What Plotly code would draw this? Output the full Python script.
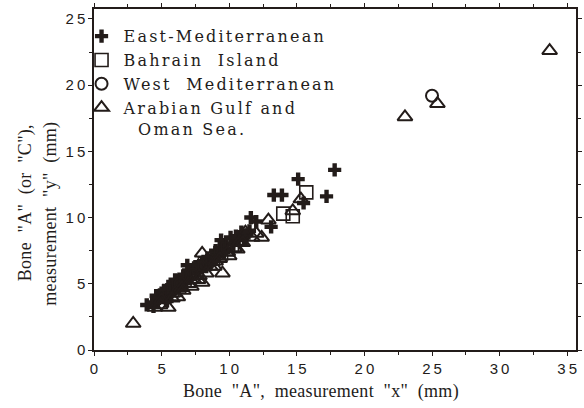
import plotly.graph_objects as go

# Bone "A" measurements (mm): x on the horizontal axis, y on the vertical axis
east_med_x = [3.9, 4.3, 4.6, 5.0, 5.3, 5.6, 5.9, 6.1, 6.3, 6.6, 6.8, 6.9, 7.0, 7.2, 7.5,
              7.8, 8.0, 8.1, 8.4, 8.7, 9.0, 9.3, 9.4, 9.8, 10.1, 10.5, 10.9, 11.3, 11.6,
              12.0, 13.1, 13.3, 13.9, 15.1, 15.5, 17.2, 17.8, 6.0, 5.5, 7.4, 8.9, 9.6,
              4.8, 5.2, 5.7, 6.2, 6.5, 7.1, 7.6, 8.3, 8.6, 9.2, 9.7, 10.3, 10.7, 11.1,
              11.5, 4.4, 5.4]
east_med_y = [3.4, 3.6, 4.1, 4.3, 4.2, 4.6, 4.9, 5.2, 5.0, 5.6, 5.5, 6.4, 6.0, 5.8, 6.3,
              6.1, 6.5, 6.7, 6.9, 7.1, 7.5, 7.7, 8.3, 8.0, 8.5, 8.6, 8.9, 8.7, 10.0,
              9.7, 9.3, 11.7, 11.7, 12.9, 11.1, 11.6, 13.6, 5.3, 4.8, 6.2, 7.0, 7.4,
              3.9, 4.5, 4.3, 4.7, 5.3, 5.4, 5.9, 6.3, 6.6, 7.1, 7.6, 8.0, 8.3, 8.5,
              9.0, 3.3, 3.7]

bahrain_x = [5.2, 5.8, 6.3, 6.7, 7.1, 7.6, 8.2, 8.8, 9.4, 9.9, 10.2, 14.0, 14.7, 15.7]
bahrain_y = [4.0, 4.5, 4.8, 5.3, 5.5, 6.0, 6.5, 6.9, 7.3, 7.6, 7.9, 10.3, 10.1, 11.9]

west_med_x = [6.4, 7.3, 8.5, 25.0]
west_med_y = [5.0, 5.7, 6.6, 19.2]

gulf_x = [2.9, 4.5, 5.5, 5.0, 6.0, 6.5, 7.0, 7.4, 8.0, 8.0, 8.6, 9.0, 9.5, 9.9, 10.4,
          11.2, 11.7, 12.4, 12.9, 15.3, 14.7, 23.0, 25.4, 33.7, 6.2, 7.8, 10.8,
          4.9, 5.8, 6.6, 7.2, 7.7, 8.3, 8.9, 9.3, 10.0, 10.6, 11.0, 12.0]
gulf_y = [2.0, 3.2, 3.2, 3.8, 4.3, 4.7, 5.0, 5.3, 7.3, 5.1, 6.3, 6.7, 5.8, 7.4, 7.7,
          8.9, 8.5, 8.5, 9.8, 11.4, 10.5, 17.6, 18.6, 22.6, 4.0, 5.6, 8.2,
          3.4, 3.9, 4.5, 4.8, 5.3, 5.8, 6.3, 6.9, 7.1, 7.6, 8.1, 8.8]

x_ticks = [0, 5, 10, 15, 20, 25, 30, 35]
x_tick_labels = ["0", "5", "1\u20090", "1\u20095", "2\u20090", "2\u20095", "3\u20090", "3\u20095"]
y_ticks = [0, 5, 10, 15, 20, 25]
y_tick_labels = ["0", "5", "1\u20090", "1\u20095", "2\u20090", "2\u20095"]

INK = "#231c1a"
SERIF = "Liberation Serif, Times New Roman, serif"
LEGEND_SERIF = "DejaVu Serif, serif"
SANS = "Liberation Sans, Arial, sans-serif"

fig = go.Figure()
fig.add_trace(go.Scatter(
    x=east_med_x, y=east_med_y, mode="markers", name="East-Mediterranean",
    marker=dict(symbol="cross", size=11, color=INK, line=dict(width=0))))
fig.add_trace(go.Scatter(
    x=bahrain_x, y=bahrain_y, mode="markers", name="Bahrain&nbsp;&nbsp;Island",
    marker=dict(symbol="square-open", size=13, color=INK, line=dict(width=1.6))))
fig.add_trace(go.Scatter(
    x=west_med_x, y=west_med_y, mode="markers", name="West&nbsp;&nbsp;Mediterranean",
    marker=dict(symbol="circle-open", size=12, color=INK, line=dict(width=2))))
fig.add_trace(go.Scatter(
    x=gulf_x, y=gulf_y, mode="markers",
    name="Arabian&nbsp;Gulf&nbsp;and<br>&nbsp;&nbsp;Oman&nbsp;Sea.",
    marker=dict(symbol="triangle-up-open", size=13, color=INK, line=dict(width=2))))

axis_common = dict(
    showline=True, linecolor=INK, linewidth=1.5, mirror="allticks",
    ticks="outside", ticklen=4, tickwidth=1, tickcolor=INK,
    showgrid=False, zeroline=False,
    tickfont=dict(family=SANS, size=15, color=INK),
    minor=dict(ticks="outside", ticklen=3, tickwidth=1, tickcolor=INK, dtick=2.5),
)

fig.update_xaxes(range=[0, 35.65], tickmode="array", tickvals=x_ticks,
                 ticktext=x_tick_labels, **axis_common)
fig.update_yaxes(range=[0, 25.75], tickmode="array", tickvals=y_ticks,
                 ticktext=y_tick_labels, **axis_common)

title_font = dict(family=SERIF, size=18, color=INK)
fig.add_annotation(text='Bone&nbsp;&nbsp;"A",&nbsp;&nbsp;measurement&nbsp;&nbsp;"x"&nbsp;&nbsp;(mm)',
                   xref="paper", yref="paper", x=0.47, y=-0.123,
                   xanchor="center", yanchor="middle", showarrow=False, font=title_font)
fig.add_annotation(text='Bone&nbsp;&nbsp;"A"&nbsp;&nbsp;(or&nbsp;&nbsp;"C"),',
                   xref="paper", yref="paper", x=-0.143, y=0.431, textangle=-90,
                   xanchor="center", yanchor="middle", showarrow=False, font=title_font)
fig.add_annotation(text='measurement&nbsp;&nbsp;"y"&nbsp;&nbsp;(mm)',
                   xref="paper", yref="paper", x=-0.090, y=0.399, textangle=-90,
                   xanchor="center", yanchor="middle", showarrow=False, font=title_font)

fig.update_layout(
    width=584, height=408,
    margin=dict(l=94, r=2, t=9, b=58),
    paper_bgcolor="white", plot_bgcolor="white",
    showlegend=True,
    legend=dict(x=-0.03, y=0.97, xanchor="left", yanchor="top", valign="top",
                bgcolor="rgba(0,0,0,0)", tracegroupgap=0, itemwidth=34,
                font=dict(family=LEGEND_SERIF, size=16, color=INK)),
)

# Widen the letter spacing of the serif labels (typewriter-like look) and let the
# widened legend text run past the legend's measured box
spacing_js = """
var gd = document.getElementById('{plot_id}');
function spreadText() {
  gd.querySelectorAll('.legend [clip-path]').forEach(function (e) { e.removeAttribute('clip-path'); });
  gd.querySelectorAll('.legendtext').forEach(function (t) { t.style.letterSpacing = '2.2px'; });
  gd.querySelectorAll('.annotation-text').forEach(function (t) { t.style.letterSpacing = '0.3px'; });
}
spreadText();
gd.on('plotly_afterplot', spreadText);
"""

fig.write_html("out.html", post_script=spacing_js)
